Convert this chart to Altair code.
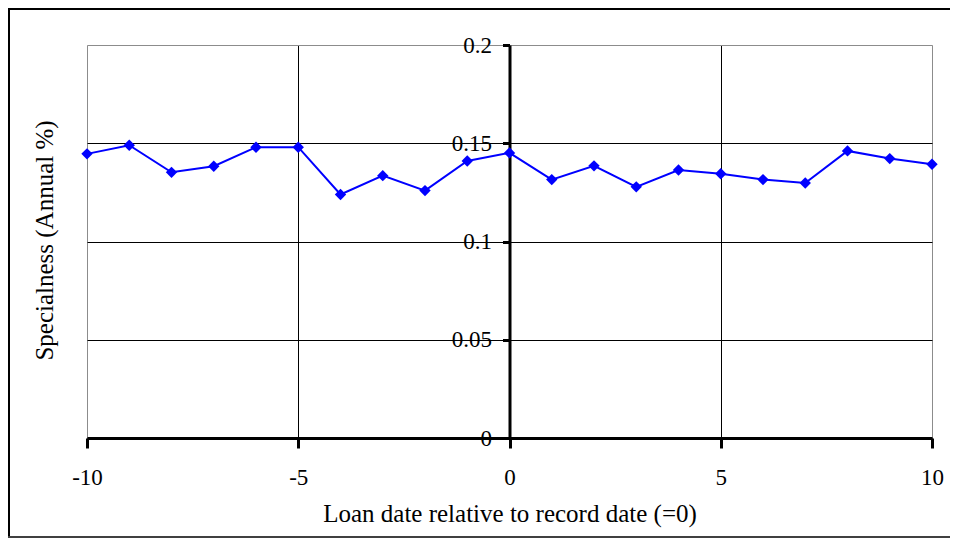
import altair as alt
import pandas as pd

# ---- data ----
days = list(range(-10, 11))
specialness = [0.1446, 0.1490, 0.1352, 0.1383, 0.1480, 0.1480, 0.1239, 0.1335,
               0.1259, 0.1410, 0.1451, 0.1315, 0.1385, 0.1278, 0.1364, 0.1345,
               0.1315, 0.1298, 0.1461, 0.1422, 0.1393]
x_ticks = [-10, -5, 0, 5, 10]
y_ticks = [0, 0.05, 0.1, 0.15, 0.2]
x_title = "Loan date relative to record date (=0)"
y_title = "Specialness (Annual %)"

df = pd.DataFrame({"day": days, "spec": specialness})

W, H = 845, 393
FONT = "Liberation Serif"
BORDER = "#8c8c8c"

x_enc = alt.X(
    "day:Q",
    scale=alt.Scale(domain=[-10, 10], nice=False, zero=False),
    axis=alt.Axis(
        values=x_ticks, title=x_title, grid=True,
        gridColor={"condition": {"test": "abs(datum.value) == 10", "value": BORDER}, "value": "black"},
        gridWidth=1, domainColor="black", domainWidth=3,
        ticks=True, tickSize=10, tickWidth=3, tickColor="black",
        labelPadding=18, labelFontSize=23, labelFont=FONT, labelColor="black",
        labelFlush=False, labelOverlap=False,
        labelExpr="datum.value < 0 ? '-' + abs(datum.value) : '' + datum.value",
        titleFont=FONT, titleFontSize=25, titleFontWeight="normal", titleColor="black",
        titleBaseline="alphabetic", titleY=83,
    ),
)
y_enc = alt.Y(
    "spec:Q",
    scale=alt.Scale(domain=[0, 0.2], nice=False),
    axis=alt.Axis(
        values=y_ticks, title=None, grid=True, offset=-W / 2,
        gridColor={"condition": {"test": "datum.value >= 0.2", "value": BORDER}, "value": "black"},
        gridWidth=1, domainColor="black", domainWidth=3,
        ticks=True, tickSize=7, tickWidth=3, tickColor="black",
        labelPadding=11, labelFontSize=23, labelFont=FONT, labelColor="black",
        labelFlush=False, labelOverlap=False,
        format=".2~f",
    ),
)

base = alt.Chart(df).encode(x=x_enc, y=y_enc)
line = base.mark_line(color="#0000FF", strokeWidth=2)
pts = base.mark_point(shape="diamond", filled=True, size=130, color="#0000FF", opacity=1)

one = pd.DataFrame({"t": [y_title]})
ytitle = alt.Chart(one).mark_text(
    angle=270, align="center", baseline="alphabetic", font=FONT, fontSize=25, color="black"
).encode(x=alt.value(-34), y=alt.value(H / 2 - 1), text="t:N")

# outer chart frame (left, top and bottom edges, as in the reference)
RIGHT_PAD = 18
fr = pd.DataFrame({"a": [0]})
frame_left = alt.Chart(fr).mark_rule(color="black", strokeWidth=2).encode(
    x=alt.value(-78), y=alt.value(-36), y2=alt.value(492))
frame_top = alt.Chart(fr).mark_rect(color="black").encode(
    x=alt.value(-79), x2=alt.value(W + RIGHT_PAD + 40), y=alt.value(-37), y2=alt.value(-35))
frame_bottom = alt.Chart(fr).mark_rect(color="#404040").encode(
    x=alt.value(-79), x2=alt.value(W + RIGHT_PAD + 40), y=alt.value(491), y2=alt.value(493))

chart = alt.layer(line, pts, ytitle, frame_left, frame_top, frame_bottom).properties(
    width=W, height=H,
    autosize=alt.AutoSizeParams(type="none"),
    padding={"left": 79, "top": 37, "right": RIGHT_PAD, "bottom": 101},
).configure_view(stroke=BORDER, strokeWidth=2).configure(background="white")

chart.save("out.html", embed_options={"renderer": "svg", "actions": False})
